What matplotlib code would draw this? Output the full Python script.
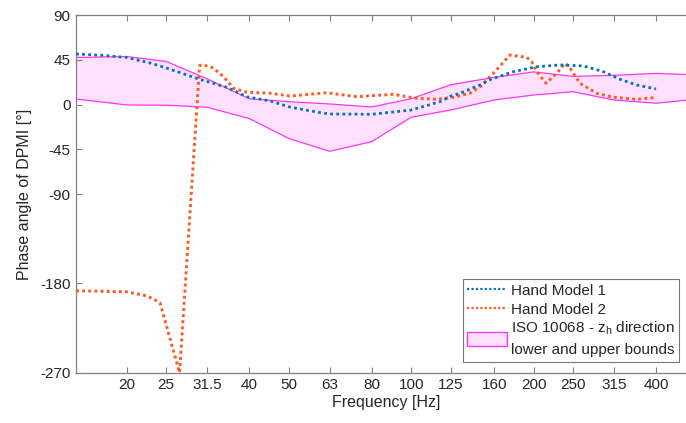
import matplotlib
matplotlib.use("Agg")
import matplotlib.pyplot as plt
from matplotlib.patches import Patch
from matplotlib.lines import Line2D

plt.rcParams['font.family'] = ['Liberation Sans', 'DejaVu Sans']
plt.rcParams['mathtext.fontset'] = 'custom'
plt.rcParams['mathtext.rm'] = 'Liberation Sans'

# ISO 10068 band (frequency, lower, upper)
band_freq = [15, 20, 25, 31.5, 40, 50, 63, 80, 100, 125, 160, 200, 250, 315, 400, 500]
band_lower = [5.7, -0.3, -0.6, -2.6, -14, -34, -47, -37.3, -12.7, -5.4, 4.7, 9.7, 13, 4.7, 1.4, 5.5]
band_upper = [47.5, 48.5, 43.5, 26, 6, 3, 0.7, -2.3, 6, 20, 27.5, 33, 28.5, 29.5, 31.5, 30]

# Hand Model 1
hm1_freq = [15, 17.5, 20, 22.8, 25, 30.2, 35.2, 39.4, 45, 50.4, 59.7, 63, 80, 100, 117.8,
            125, 132, 147.7, 157, 178.3, 203.6, 232.2, 265, 296.8, 326.3, 358.4, 400]
hm1_val = [51, 49.7, 47.5, 42, 37, 25.5, 17.5, 8, 3.7, -2.5, -8, -9.4, -9.7, -5.4, 3,
           8.5, 11.5, 19.8, 25.5, 33.2, 38.2, 40, 39, 33.2, 25.5, 19.8, 15.8]

# Hand Model 2
hm2_freq = [15, 20, 21.2, 22.4, 23.5, 24.15, 26.96, 30.2, 30.9, 32.6, 34.5, 36.6, 39.4, 45,
            50.4, 62, 73.5, 90.4, 103.2, 115.6, 127, 139.6, 147.7, 159.2, 175, 192.3,
            197.8, 203.6, 214.6, 228, 239, 245.8, 260, 285.8, 314, 358.4, 394]
hm2_val = [-187.5, -188.5, -190.7, -192.7, -196.8, -200, -270, 39.5, 40, 37, 28.5, 16.5,
           12.5, 11.5, 8.7, 12, 8, 10.4, 6.4, 5.4, 7.4, 11.5, 18, 31.6, 50, 47.7,
           43.3, 33.2, 21.5, 31.6, 41.7, 36.6, 21.5, 11.4, 7.4, 5.4, 7]

xticks = [20, 25, 31.5, 40, 50, 63, 80, 100, 125, 160, 200, 250, 315, 400]
xticklabels = ['20', '25', '31.5', '40', '50', '63', '80', '100', '125', '160', '200', '250', '315', '400']
yticks = [-270, -180, -90, -45, 0, 45, 90]

fig = plt.figure(figsize=(6.86, 4.23), dpi=100)
ax = fig.add_axes([76 / 686, (423 - 372.7) / 423, 619.5 / 686, 357.4 / 423])

magenta = '#FF33FF'
ax.fill_between(band_freq, band_lower, band_upper, facecolor='#FFE0FF', edgecolor='none', zorder=1)
ax.plot(band_freq, band_lower, color=magenta, lw=0.9, zorder=2)
ax.plot(band_freq, band_upper, color=magenta, lw=0.9, zorder=2)

blue = '#0072BD'
orange = '#FF5A1F'
ax.plot(hm1_freq, hm1_val, color=blue, lw=2.0, linestyle=(0, (1, 1.2)), zorder=4)
ax.plot(hm2_freq, hm2_val, color=orange, lw=2.1, linestyle=(0, (1, 1.1)), zorder=3)

ax.set_xscale('log')
ax.set_xlim(15, 500)
ax.set_ylim(-270, 90)
ax.set_xticks(xticks)
ax.set_xticklabels(xticklabels)
ax.minorticks_off()
ax.set_yticks(yticks)
ax.set_yticklabels([str(v) for v in yticks])

tc = '#262626'
ax.tick_params(axis='both', direction='in', length=4.5, width=0.8, color='#808080',
               labelsize=11, labelcolor=tc, top=True, right=False, pad=4)
for s in ['left', 'bottom', 'top']:
    ax.spines[s].set_color('#808080')
    ax.spines[s].set_linewidth(0.9)
ax.spines['right'].set_visible(False)

ax.set_xlabel('Frequency [Hz]', fontsize=11.5, color=tc, labelpad=2)
ax.set_ylabel('Phase angle of DPMI [°]', fontsize=11.5, color=tc, labelpad=6)

handles = [Line2D([], [], color=blue, lw=1.6, linestyle=(0, (1, 1))),
           Line2D([], [], color=orange, lw=1.6, linestyle=(0, (1, 1))),
           Patch(facecolor='#FFE0FF', edgecolor=magenta, lw=1.0)]
labels = ['Hand Model 1', 'Hand Model 2',
          'ISO 10068 - z$_\\mathregular{h}$ direction\nlower and upper bounds']
leg = ax.legend(handles, labels, loc='lower right', bbox_to_anchor=(0.973, 0.030),
                borderaxespad=0, fontsize=11, frameon=True, fancybox=False,
                handlelength=2.6, handleheight=1.0, handletextpad=0.25, borderpad=0.3,
                labelspacing=0.2, edgecolor='#555555')
leg.get_frame().set_linewidth(0.8)
for t in leg.get_texts():
    t.set_color(tc)
leg.get_texts()[2].set_linespacing(1.55)

fig.savefig('out.png', dpi=100)
